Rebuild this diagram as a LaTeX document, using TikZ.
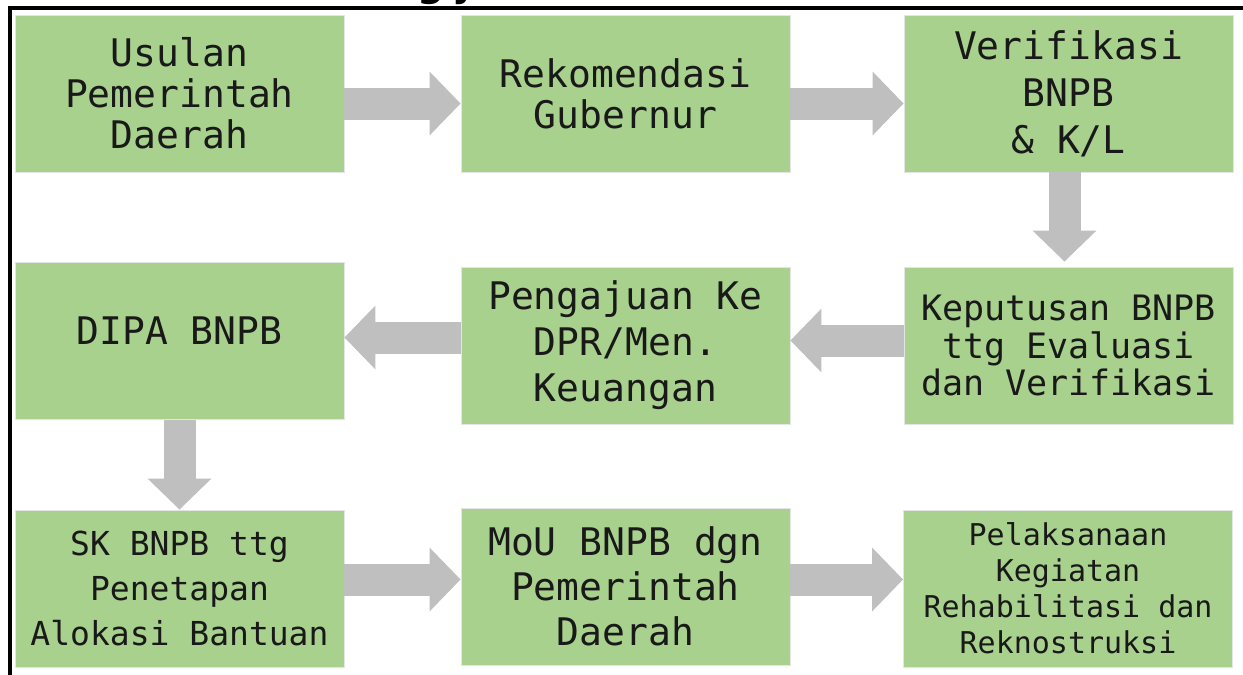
\documentclass[tikz,border=0pt]{standalone}
\usepackage{fontspec}
\newfontfamily\boxfont{DejaVu Sans Mono}
\newfontfamily\titlefont{DejaVu Sans}
\usetikzlibrary{arrows.meta}
\definecolor{boxgreen}{HTML}{A9D18E}
\definecolor{flowgray}{HTML}{BFBFBF}
\newcommand{\fsz}[2]{\fontsize{#1}{#2}\selectfont}
\tikzset{stage/.style={rectangle,fill=boxgreen,draw=black!10,line width=.4pt,minimum width=164.5pt,minimum height=78.5pt,inner sep=0pt,align=center,text=black!90},
flow/.style={flowgray,line width=16pt,-{Triangle[width=31pt,length=15.5pt]}}}
\begin{document}
\begin{tikzpicture}[x=.5pt,y=-.5pt]
		\useasboundingbox (0,0) rectangle (1243,675);
		% frame
		\draw[line width=2pt] (10,675)--(10,8)--(1243,8);
		\node[anchor=base west,inner sep=0pt,font=\titlefont\bfseries\fsz{19}{23}] (title) at (417,-4) {g j};
		
		% row 1
		\path
		(179.5,93.5)  node[stage,font=\boxfont\fsz{19}{20.5}] (usulan) {Usulan\\Pemerintah\\Daerah}
		(625.5,93.5)  node[stage,font=\boxfont\fsz{19}{20.5}] (rekom) {Rekomendasi\\Gubernur}
		(1068.5,93.5) node[stage,font=\boxfont\fsz{19}{23.5}] (verif) {Verifikasi\\BNPB\\\& K/L};
		
		% row 2
		\path
		(179.5,341)    node[stage] (dipa) {}
		(1068.5,345.5) node[stage,font=\boxfont\fsz{17.5}{18.7}] (keput) {Keputusan BNPB\\ttg Evaluasi\\dan Verifikasi}
		(625.5,345.5)  node[stage,font=\boxfont\fsz{19}{23}] (aju) {Pengajuan Ke\\DPR/Men.\\Keuangan};
		\node[font=\boxfont\fsz{19}{23},text=black!90] (dipatext) at ([yshift=5pt]dipa.center) {DIPA BNPB};
		
		% row 3
		\path
		(179.5,588.5)  node[stage,font=\boxfont\fsz{16.5}{22.5}] (sk) {SK BNPB ttg\\Penetapan\\Alokasi Bantuan}
		(625.5,586.5)  node[stage,font=\boxfont\fsz{19}{22.5}] (mou) {MoU BNPB dgn\\Pemerintah\\Daerah}
		(1068,588.5)   node[stage,font=\boxfont\fsz{15}{18}] (pelaks) {Pelaksanaan\\Kegiatan\\Rehabilitasi dan\\Reknostruksi};
		
		% arrows
		\coordinate (usulanout) at ([yshift=-5pt]usulan.east);
		\coordinate (rekomout) at ([yshift=-5pt]rekom.east);
		\coordinate (verifout) at ([xshift=-2pt]verif.south);
		\coordinate (keputout) at ([yshift=2.5pt]keput.west);
		\coordinate (ajuout) at ([yshift=4pt]aju.west);
		\coordinate (skout) at ([yshift=4.5pt]sk.east);
		\coordinate (mouout) at ([yshift=3.5pt]mou.east);
		\draw[flow] (usulanout) -- (usulanout -| rekom.west);
		\draw[flow] (rekomout) -- (rekomout -| verif.west);
		\draw[flow,shorten >=2.5pt] (verifout) -- (verifout |- keput.north);
		\draw[flow] (keputout) -- (keputout -| aju.east);
		\draw[flow] (ajuout) -- (ajuout -| dipa.east);
		\draw[flow] (dipa.south) -- (dipa.south |- sk.north);
		\draw[flow] (skout) -- (skout -| mou.west);
		\draw[flow] (mouout) -- (mouout -| pelaks.west);
	\end{tikzpicture}
\end{document}
